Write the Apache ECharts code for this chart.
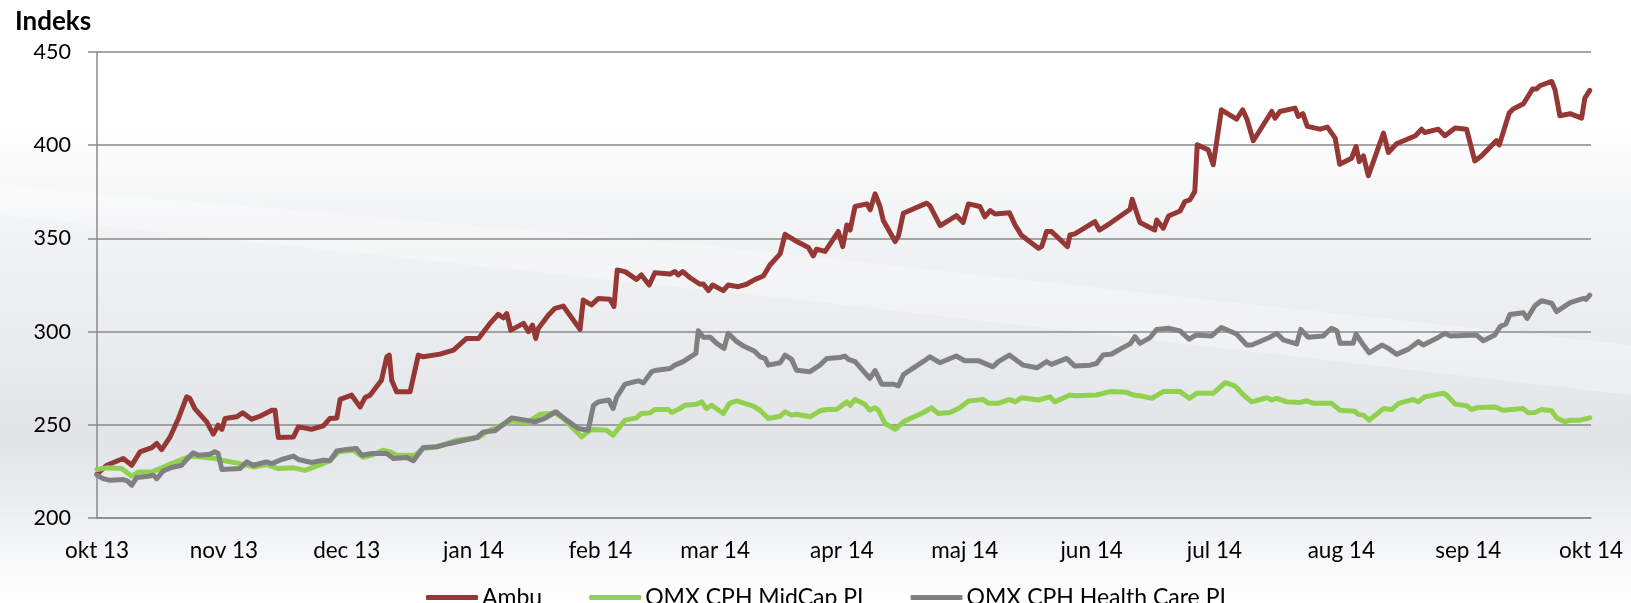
<!DOCTYPE html>
<html lang="da">
<head>
<meta charset="UTF-8">
<title>Indeks</title>
<script src="https://cdn.jsdelivr.net/npm/echarts@6/dist/echarts.min.js"></script>
<style>
  html, body { margin: 0; padding: 0; background: #fff; }
  #chart { width: 1631px; height: 603px; }
</style>
</head>
<body>
<div id="chart"></div>
<script>
// x = dage efter 1. okt 2013, y = indeks
var monthDays = [0, 31, 61, 92, 123, 151, 182, 212, 243, 273, 304, 335, 365];
var monthLabels = ['okt 13', 'nov 13', 'dec 13', 'jan 14', 'feb 14', 'mar 14', 'apr 14',
  'maj 14', 'jun 14', 'jul 14', 'aug 14', 'sep 14', 'okt 14'];
var seriesNames = ['Ambu', 'OMX CPH MidCap PI', 'OMX CPH Health Care PI'];

var ambu = [[0,223.5],[2.4,228.3],[6.4,231.9],[8.5,228.3],[10.5,235.5],[13.4,237.8],[14.6,240],[15.8,236.7],[17.8,243.2],[19.9,253.4],[21.9,265],[22.7,264.1],[23.9,258.7],[26.8,251.6],[28.4,245],[29.6,249.8],[30.5,247.5],[31.3,253.4],[34.1,254.3],[35.6,256.4],[37.8,253],[39.8,254.6],[42.7,257.8],[43.5,257.8],[44.3,243.2],[48,243.5],[49.2,248.9],[52.4,247.6],[55.3,249.4],[56.9,253.4],[58.6,253.7],[59.4,263.6],[62.2,265.9],[64.3,259.6],[65.5,264.6],[66.7,265.9],[69.5,273.9],[70.8,286.5],[71.4,287.4],[72,273.9],[73.2,267.7],[76.5,267.7],[78.5,287.4],[79.7,286.5],[83.8,287.9],[87.1,290.1],[90.3,296.3],[93.2,296.3],[96,304.4],[98,309.2],[99.3,307.4],[100.1,309.7],[101.1,300.8],[104.2,304.4],[105.4,300],[106.4,303.5],[107.2,296.3],[107.8,301.7],[110.3,308.9],[111.9,312.5],[113.9,313.7],[118,301.2],[118.8,316.9],[120.8,314.3],[122.5,317.8],[125.3,317.3],[126.3,313.4],[127.1,333.1],[129,332.2],[131.8,328],[133,330.4],[134.9,325],[136.3,331.6],[140,330.9],[141.2,332.2],[142,330.4],[143.1,332.2],[144.9,328.9],[147.3,325.4],[148.1,325.6],[149.4,322],[150.4,325],[153,322],[154.2,325],[156.7,324.1],[158.7,325.4],[160.8,328],[162.8,329.8],[164.4,335.7],[166.9,341.7],[168.1,352.2],[171,348.3],[173.8,345.1],[175,340.6],[175.8,344.2],[177.9,343],[181.1,353.7],[182.2,345.6],[183.2,357.2],[184,354.5],[185.2,367.1],[188.1,368.5],[188.9,365.3],[190.1,373.9],[191.3,367.1],[192.1,359.6],[195,348.3],[195.8,351.3],[197,363.5],[202.7,368.9],[203.5,367.4],[206,356.9],[210,362.2],[211.6,358.5],[212.9,368.5],[215.7,367.1],[216.9,361.6],[218.2,364.9],[219.4,363.1],[222.9,363.8],[224.3,357.2],[225.9,351.5],[230,344.7],[230.8,345.6],[232,353.7],[233.2,353.7],[237.1,345.6],[237.7,351.8],[238.9,352.4],[243.8,359],[244.9,354.5],[247.5,358.1],[252.4,365.6],[252.9,371],[254.8,358.5],[258.4,354.5],[258.9,359.9],[260.5,355.4],[261.8,362],[264.6,364.7],[265.8,369.8],[267,370.7],[268.2,375.1],[268.8,400.2],[271.5,397.5],[272.7,389.5],[274.7,419],[278.4,414],[279.9,419],[281,413.6],[282.5,402.4],[287,418.1],[287.8,414.5],[289,418.1],[292.7,419.9],[293.5,415.4],[294.6,416.9],[295.7,410.1],[298.8,408.6],[300.6,409.7],[302.5,403.8],[303.6,389.8],[306.5,393],[307.6,399.3],[308.4,391.2],[309.4,394.3],[310.6,383.6],[314.3,406.5],[315.5,396.1],[317.5,400.8],[322.1,405.1],[323.6,408.6],[324.4,406.8],[327.7,408.6],[329.3,405.1],[331.8,409.2],[334.6,408.6],[336.6,391.6],[338.3,394.3],[341.9,402.5],[342.6,400.2],[345,417.2],[346,419.4],[348.5,422.2],[350.7,430.1],[351.7,430.1],[352.5,431.9],[355.4,434.2],[356.2,429.8],[357.4,415.8],[359.9,416.9],[362.7,414.5],[363.5,425.3],[364.7,429.4]];

var midCap = [[0,226],[2.4,226.9],[6,226.5],[8.5,222.4],[10.1,224.7],[13.4,224.7],[15.4,226.5],[18.2,229.2],[20.7,231.4],[23.1,233.2],[26.4,232.5],[28.8,231.9],[30.5,231],[34.9,229.2],[38.2,227.4],[41.4,228.7],[44.3,226.5],[48,226.9],[50.8,225.6],[55.3,229.2],[56.9,230.7],[59,235.5],[62.6,236.4],[65.1,232.5],[67.1,233.7],[70,236.4],[71.6,235.5],[73.2,233.7],[77.7,233.7],[79.7,237.3],[83,238.2],[87.9,241.8],[93.2,243.2],[95.2,246.2],[101.3,252.1],[105,251.1],[108.2,255.6],[111.9,256.4],[113.9,253.4],[118.4,243.5],[119.6,245.7],[120.4,247.1],[121.3,247.5],[124.5,247.1],[126.1,244.4],[129,252.5],[131.8,253.7],[133,256.1],[135.1,256.4],[136.3,258.2],[139.6,258.2],[140.4,256.6],[142.4,258.7],[143.6,260.5],[146.5,261],[147.7,262.3],[148.9,258.7],[150.2,260.5],[153,256.1],[154.5,261.5],[156.3,262.9],[160.3,260],[162,257.8],[164,253.4],[166.9,254.6],[168.1,257],[169.7,255.2],[170.9,255.7],[174.2,254.3],[176.6,257.5],[178.3,258.2],[180.7,258.2],[183.2,262.3],[184,260.5],[185.2,263.6],[187.6,261],[188.8,257.8],[190.1,259.1],[190.9,257.8],[192.5,250.7],[195,247.5],[197,251.6],[201.9,256.6],[203.9,259.1],[205.5,256.1],[208.4,256.6],[210.8,259.1],[212.9,262.7],[216.5,263.6],[217.8,261.5],[220.2,261.5],[223,263.6],[224.3,262.3],[225.9,264.5],[230,263.3],[232.8,265],[234,262.3],[237.7,266],[238.9,265.6],[244.2,266],[247.5,267.8],[251.5,267.4],[253.2,266],[254.8,265.6],[257.7,264.2],[260.5,267.8],[264.6,267.8],[266.9,264.2],[268.7,266.9],[272.7,266.9],[275.6,272.6],[278,270.9],[280.1,266],[282.1,262.3],[285.8,264.5],[287,263.3],[288.2,264.2],[290.7,262.3],[293.9,262],[295.5,262.9],[297.2,261.5],[301.6,261.5],[303.7,257.8],[307.3,257.3],[308.1,255.6],[309.4,255.2],[310.8,252.5],[314.3,258.7],[316.3,258.2],[318,261.5],[321.6,263.6],[322.8,262.3],[324.4,265],[328.9,266.9],[329.7,266],[331.8,261.1],[334.6,260.2],[335.8,258.2],[337.5,259.3],[341.5,259.6],[343.5,257.8],[348.4,258.7],[349.7,256.4],[351.3,256.6],[352.9,258.2],[355.4,257.5],[356.6,253.7],[358.6,251.6],[359.8,252.5],[362.3,252.5],[364.7,253.7]];

var healthCare = [[0,223],[1.5,221.1],[3.2,220.2],[6.4,220.6],[7.4,219.9],[8.5,217.6],[9.7,221.7],[12.5,222.4],[13.8,222.9],[14.6,221.1],[16.2,225.3],[18.2,227.1],[20.7,228.3],[21.9,231.4],[23.5,235],[24.8,233.7],[27.6,234.2],[28.8,235.5],[29.6,234.6],[30.5,226],[34.9,226.5],[36.6,230.1],[38.2,228.3],[41.4,230.1],[42.7,229.2],[45.1,231.4],[48,233.2],[49.2,231.4],[52.4,229.8],[55.3,231],[56.9,230.7],[58.6,235.9],[61,236.8],[63.4,237.3],[64.7,233.7],[67.1,234.6],[70.8,234.6],[72.4,231.9],[75.7,232.4],[77.3,230.7],[79.7,237.8],[83,238.2],[86.2,240],[92.8,243.2],[94.4,246.2],[97.2,246.8],[101.3,253.7],[107,251.6],[109.4,253.4],[112.1,257],[114.7,252.5],[117.6,248],[120,247.1],[121.3,260.5],[122.5,262.3],[125,263.3],[126.1,258.7],[127,265],[129,271.8],[132.3,273.6],[133.5,272.5],[135.5,278.5],[136.7,279.3],[140,280.2],[141.2,282],[143.2,283.9],[146.3,288.3],[146.9,300.5],[148.1,297],[149.8,297],[151.4,293.7],[153.2,291],[154.2,299.1],[156.3,294.6],[157.9,292.3],[160.6,289.6],[162,286.5],[163.2,285.6],[164,282],[166.9,283.3],[168.1,287.4],[169.7,285.1],[170.9,279.3],[174.2,278.5],[176.6,282],[178.3,285.6],[181.5,286.1],[182.7,286.9],[183.6,285.1],[185.2,283.9],[188.8,274.9],[190.1,279.1],[191.7,271.8],[194.5,271.8],[195.8,270.9],[197,276.9],[201.9,284],[203.5,286.5],[205.9,283.3],[209.9,286.9],[212,284.4],[215.3,284.4],[218.9,281.1],[220.2,283.9],[222.9,287.4],[226.3,282],[229.6,280.6],[232,283.9],[233.2,282.4],[236.9,285.6],[238.9,281.5],[242.6,282],[244.2,282.9],[245.8,287.4],[247.9,288],[250.3,291],[252.4,293.4],[253.6,297.3],[254.8,293.7],[257.3,296.8],[258.9,301.2],[261.7,301.8],[264.6,300.4],[266.8,295.9],[268.6,298.2],[272.3,297.7],[274.7,302.2],[278.4,298.7],[280.9,292.8],[282.1,292.8],[286.6,297],[288.2,299.1],[289.8,295.6],[293.1,293.4],[294.1,301.2],[295.9,297],[299.6,297.7],[301.6,301.8],[302.9,300.5],[303.7,293.7],[306.9,293.7],[307.6,298.7],[309.4,292.8],[310.8,288.6],[313.9,292.8],[315.5,291],[317.5,287.8],[320.4,290.6],[322.8,294.6],[324,292.8],[327.3,296.4],[329.3,299.1],[330.5,297.7],[337,298.2],[338.7,295.1],[341.5,298.2],[342.8,302.7],[344.2,304.1],[345.2,309.2],[348.5,310.1],[349.4,307.1],[351.3,313.9],[352.9,316.6],[355.4,315.2],[356.6,310.7],[359.9,315.5],[363.2,317.8],[363.8,317.3],[364.7,319.6]];

var font = 'Lato, "Open Sans", sans-serif';
var gridColor = '#8a8a8a';

var myChart = echarts.init(document.getElementById('chart'), null, { renderer: 'canvas' });

function lineSeries(name, data, color) {
  return {
    name: name,
    type: 'line',
    data: data,
    symbol: 'none',
    animation: false,
    lineStyle: { color: color, width: 5, cap: 'round', join: 'round' },
    itemStyle: { color: color }
  };
}

var option = {
  animation: false,
  backgroundColor: {
    type: 'linear', x: 0, y: 0, x2: 0, y2: 1,
    colorStops: [
      { offset: 0, color: '#ffffff' },
      { offset: 0.2, color: '#ffffff' },
      { offset: 0.36, color: '#f3f4f5' },
      { offset: 0.55, color: '#eaecee' },
      { offset: 0.72, color: '#e2e5e7' },
      { offset: 0.82, color: '#e9ecee' },
      { offset: 0.92, color: '#f6f7f8' },
      { offset: 1, color: '#ffffff' }
    ]
  },
  // svag lys stribe i baggrunden
  graphic: [{
    type: 'polygon',
    silent: true,
    z: -1,
    shape: { points: [[0, 185], [700, 245], [1631, 345], [1631, 395], [800, 300], [0, 215]] },
    style: { fill: 'rgba(255,255,255,0.3)' }
  }],
  title: {
    text: 'Indeks',
    left: 10,
    top: 4,
    textStyle: { fontFamily: font, fontSize: 26, fontWeight: 'bold', color: '#000' }
  },
  legend: {
    data: seriesNames,
    left: 421,
    top: 581,
    icon: 'roundRect',
    itemWidth: 52,
    itemHeight: 5,
    itemGap: 47,
    textStyle: { fontFamily: font, fontSize: 23, color: '#000', padding: [0, 0, 0, -1] }
  },
  grid: { left: 97, right: 40, top: 52, bottom: 85, containLabel: false },
  xAxis: {
    type: 'value',
    min: 0,
    max: 365,
    splitLine: { show: false },
    axisLine: { show: true, lineStyle: { color: gridColor, width: 1.5 } },
    axisTick: { show: false },
    axisLabel: {
      customValues: monthDays,
      margin: 21,
      fontFamily: font,
      fontSize: 22.5,
      color: '#000',
      formatter: function (v) {
        var i = monthDays.indexOf(v);
        return i >= 0 ? monthLabels[i] : '';
      }
    }
  },
  yAxis: {
    type: 'value',
    min: 200,
    max: 450,
    interval: 50,
    axisLine: { show: true, lineStyle: { color: gridColor, width: 1.5 } },
    axisTick: { show: true, length: 9, lineStyle: { color: gridColor, width: 1.5 } },
    splitLine: { show: true, lineStyle: { color: gridColor, width: 1.5 } },
    axisLabel: { margin: 26, fontFamily: font, fontSize: 21.5, color: '#000' }
  },
  series: [
    lineSeries(seriesNames[0], ambu, '#953735'),
    lineSeries(seriesNames[1], midCap, '#92d050'),
    lineSeries(seriesNames[2], healthCare, '#808080')
  ]
};

myChart.setOption(option);
</script>
</body>
</html>
